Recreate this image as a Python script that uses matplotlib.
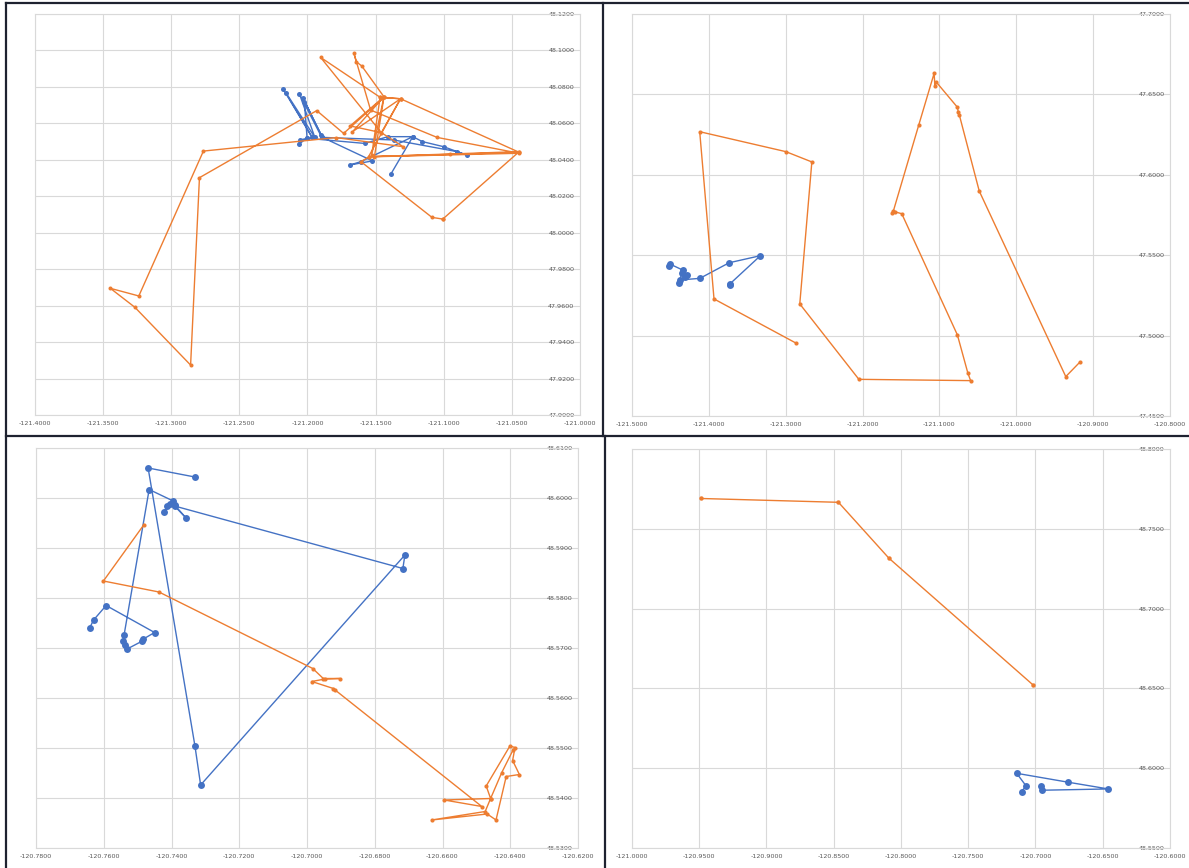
import numpy as np
import matplotlib
matplotlib.use("Agg")
import matplotlib.pyplot as plt
from matplotlib.lines import Line2D
from matplotlib.ticker import FormatStrFormatter

BLUE = "#4472C4"
ORANGE = "#ED7D31"
GRID = "#D9D9D9"
LABEL = "#595959"

# ---------------- Track 1 (upper left) ----------------
p1_blue_lon = [-121.2178, -121.1969, -121.2158, -121.1946, -121.2059, -121.1904, -121.2031,
               -121.1890, -121.2023, -121.2003, -121.2054, -121.2065, -121.2003, -121.1580,
               -121.1410, -121.1227, -121.1157, -121.1001, -121.0832, -121.0903, -121.1368,
               -121.1890, -121.1523, -121.1687, -121.1608, -121.1227, -121.1388]
p1_blue_lat = [48.0787, 48.0527, 48.0768, 48.0523, 48.0761, 48.0536, 48.0737,
               48.0523, 48.0719, 48.0518, 48.0509, 48.0487, 48.0518, 48.0490,
               48.0527, 48.0527, 48.0500, 48.0472, 48.0426, 48.0445, 48.0509,
               48.0523, 48.0394, 48.0372, 48.0390, 48.0527, 48.0322]
p1_orange_lon = [-121.1007, -121.1086, -121.1608, -121.1546, -121.0446, -121.1317, -121.1467,
                 -121.1904, -121.1458, -121.1687, -121.1439, -121.1602, -121.1642, -121.1659,
                 -121.1537, -121.1049, -121.0446, -121.1509, -121.1439, -121.1735, -121.1932,
                 -121.2793, -121.2858, -121.3267, -121.3447, -121.3238, -121.2764, -121.1791,
                 -121.1298, -121.1458, -121.1317, -121.1467, -121.1529, -121.1439, -121.1670,
                 -121.1317, -121.1552, -121.0953, -121.0446, -121.1007]
p1_orange_lat = [48.0075, 48.0084, 48.0390, 48.0417, 48.0441, 48.0735, 48.0743,
                 48.0962, 48.0549, 48.0586, 48.0746, 48.0915, 48.0938, 48.0984,
                 48.0673, 48.0523, 48.0436, 48.0417, 48.0743, 48.0545, 48.0670,
                 48.0302, 47.9274, 47.9591, 47.9695, 47.9653, 48.0448, 48.0522,
                 48.0472, 48.0549, 48.0735, 48.0743, 48.0426, 48.0746, 48.0554,
                 48.0735, 48.0417, 48.0432, 48.0445, 48.0075]
p1_xticks = [-121.40, -121.35, -121.30, -121.25, -121.20, -121.15, -121.10, -121.05, -121.00]
p1_yticks = [47.90, 47.92, 47.94, 47.96, 47.98, 48.00, 48.02, 48.04, 48.06, 48.08, 48.10, 48.12]

# ---------------- Track 2 (upper right) ----------------
p2_blue_lon = [-121.4515, -121.4506, -121.4342, -121.4355, -121.4386, -121.4290, -121.4312,
               -121.4377, -121.4117, -121.3736, -121.3329, -121.3727, -121.3720]
p2_blue_lat = [47.5433, 47.5445, 47.5408, 47.5387, 47.5325, 47.5377, 47.5365,
               47.5346, 47.5356, 47.5453, 47.5497, 47.5321, 47.5315]
p2_orange_lon = [-121.2861, -121.3933, -121.4119, -121.2998, -121.2660, -121.2817, -121.2048,
                 -121.0594, -121.0629, -121.0766, -121.1490, -121.1573, -121.1617, -121.1598,
                 -121.1270, -121.1069, -121.1059, -121.1045, -121.0766, -121.0756, -121.0741,
                 -121.0482, -120.9356, -120.9175]
p2_orange_lat = [47.4952, 47.5228, 47.6268, 47.6144, 47.6080, 47.5197, 47.4728,
                 47.4720, 47.4765, 47.5004, 47.5758, 47.5769, 47.5762, 47.5777,
                 47.6308, 47.6631, 47.6552, 47.6579, 47.6420, 47.6393, 47.6372,
                 47.5899, 47.4745, 47.4834]
p2_xticks = [-121.5, -121.4, -121.3, -121.2, -121.1, -121.0, -120.9, -120.8]
p2_yticks = [47.45, 47.50, 47.55, 47.60, 47.65, 47.70]

# ---------------- Track 3 (lower left) ----------------
p3_blue_lon = [-120.7331, -120.7469, -120.7331, -120.7314, -120.6711, -120.6717, -120.7391,
               -120.7357, -120.7391, -120.7404, -120.7421, -120.7412, -120.7395, -120.7466,
               -120.7540, -120.7543, -120.7538, -120.7531, -120.7486, -120.7483, -120.7450,
               -120.7593, -120.7630, -120.7641]
p3_blue_lat = [48.6042, 48.6060, 48.5505, 48.5426, 48.5886, 48.5859, 48.5984,
               48.5960, 48.5986, 48.5989, 48.5972, 48.5984, 48.5994, 48.6017,
               48.5726, 48.5714, 48.5707, 48.5698, 48.5714, 48.5718, 48.5731,
               48.5785, 48.5756, 48.5741]
p3_orange_lon = [-120.7481, -120.7601, -120.7437, -120.6983, -120.6952, -120.6904, -120.6947,
                 -120.6986, -120.6922, -120.6917, -120.6484, -120.6595, -120.6458, -120.6471,
                 -120.6401, -120.6386, -120.6393, -120.6373, -120.6412, -120.6442, -120.6468,
                 -120.6632, -120.6474, -120.6458, -120.6425, -120.6391]
p3_orange_lat = [48.5947, 48.5834, 48.5812, 48.5659, 48.5639, 48.5639, 48.5638,
                 48.5633, 48.5619, 48.5616, 48.5383, 48.5396, 48.5399, 48.5424,
                 48.5504, 48.5501, 48.5475, 48.5447, 48.5443, 48.5356, 48.5368,
                 48.5356, 48.5373, 48.5399, 48.5451, 48.5497]
p3_xticks = [-120.78, -120.76, -120.74, -120.72, -120.70, -120.68, -120.66, -120.64, -120.62]
p3_yticks = [48.53, 48.54, 48.55, 48.56, 48.57, 48.58, 48.59, 48.60, 48.61]

# ---------------- Track 4 (lower right) ----------------
p4_blue_lon = [-120.7103, -120.7071, -120.7140, -120.6756, -120.6459, -120.6949, -120.6961]
p4_blue_lat = [48.5853, 48.5890, 48.5968, 48.5912, 48.5870, 48.5862, 48.5890]
p4_orange_lon = [-120.9490, -120.8465, -120.8090, -120.7020]
p4_orange_lat = [48.7690, 48.7666, 48.7316, 48.6523]
p4_xticks = [-121.00, -120.95, -120.90, -120.85, -120.80, -120.75, -120.70, -120.65, -120.60]
p4_yticks = [48.55, 48.60, 48.65, 48.70, 48.75, 48.80]

W, H = 1189, 868
fig = plt.figure(figsize=(W / 100, H / 100), dpi=100)
fig.patch.set_facecolor("white")


def px_axes(x0, y0, x1, y1):
    """Create axes from pixel box (left, top, right, bottom)."""
    return fig.add_axes([x0 / W, 1 - y1 / H, (x1 - x0) / W, (y1 - y0) / H])


def style(ax, xticks, yticks):
    ax.set_xlim(xticks[0], xticks[-1])
    ax.set_ylim(yticks[0], yticks[-1])
    ax.set_xticks(xticks)
    ax.set_yticks(yticks)
    ax.xaxis.set_major_formatter(FormatStrFormatter("%.4f"))
    ax.yaxis.set_major_formatter(FormatStrFormatter("%.4f"))
    ax.grid(True, color=GRID, linewidth=0.8)
    ax.set_axisbelow(True)
    for sp in ax.spines.values():
        sp.set_color(GRID)
        sp.set_linewidth(0.8)
    ax.yaxis.tick_right()
    ax.tick_params(axis="x", length=0, pad=4.5, labelsize=4.6, labelcolor=LABEL)
    ax.tick_params(axis="y", length=0, pad=-4, labelsize=4.6, labelcolor=LABEL)
    for t in ax.yaxis.get_major_ticks():
        t.label2.set_horizontalalignment("right")


def track(ax, lon, lat, color, ms):
    ax.plot(lon, lat, color=color, linewidth=1.0, marker="o", markersize=ms,
            markeredgewidth=0, solid_joinstyle="round")


panels = [
    (px_axes(35, 14, 580, 415), p1_xticks, p1_yticks,
     (p1_blue_lon, p1_blue_lat), (p1_orange_lon, p1_orange_lat), 3.6, 2.9),
    (px_axes(632, 14, 1170, 416), p2_xticks, p2_yticks,
     (p2_blue_lon, p2_blue_lat), (p2_orange_lon, p2_orange_lat), 5.0, 3.0),
    (px_axes(36, 448, 578, 848), p3_xticks, p3_yticks,
     (p3_blue_lon, p3_blue_lat), (p3_orange_lon, p3_orange_lat), 5.0, 3.0),
    (px_axes(632, 449, 1170, 848), p4_xticks, p4_yticks,
     (p4_blue_lon, p4_blue_lat), (p4_orange_lon, p4_orange_lat), 5.0, 3.2),
]

for ax, xt, yt, blue, orange, bms, oms in panels:
    style(ax, xt, yt)
    track(ax, blue[0], blue[1], BLUE, bms)
    track(ax, orange[0], orange[1], ORANGE, oms)

# dark frames around the four panels
FRAME = "#1E2230"
frame_lines = [
    ((6, 6), (3, 868)),
    ((6, 1189), (3, 3)),
    ((6, 1189), (436, 436)),
    ((603, 603), (3, 436)),
    ((605, 605), (436, 868)),
]
for xs, ys in frame_lines:
    fig.add_artist(Line2D([x / W for x in xs], [1 - y / H for y in ys],
                          color=FRAME, linewidth=1.6, transform=fig.transFigure))

fig.savefig("out.png", dpi=100, facecolor="white")
